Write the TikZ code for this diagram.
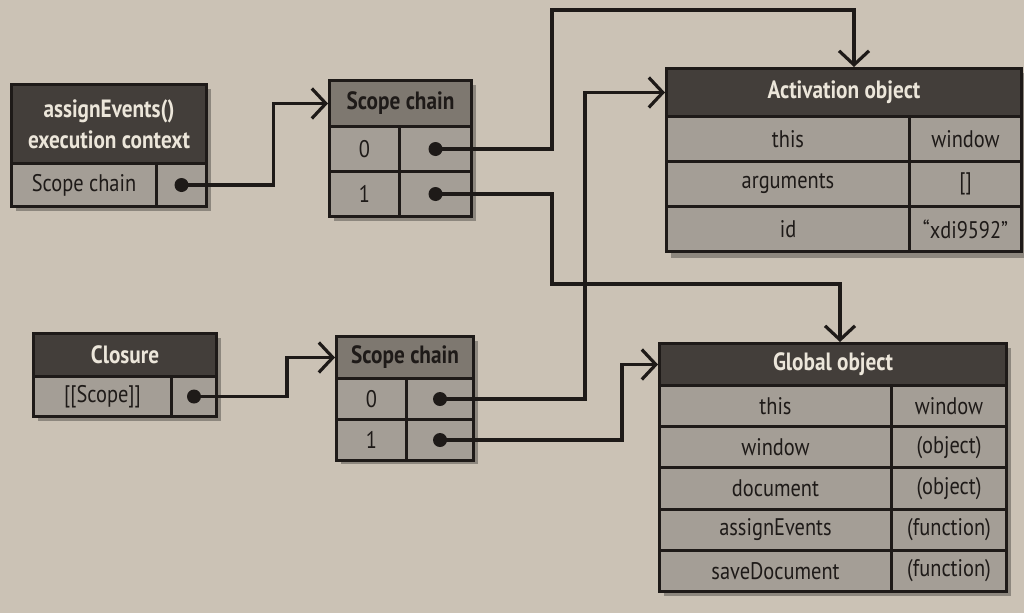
\documentclass[tikz,border=0pt]{standalone}
\usepackage{fontspec}
\setmainfont{PT Sans}[FakeStretch=0.85]
\usetikzlibrary{arrows.meta}

\definecolor{paper}{HTML}{CBC2B5}
\definecolor{ink}{HTML}{1E1A18}
\definecolor{hdrdark}{HTML}{433E3A}
\definecolor{hdrtext}{HTML}{ECE6DA}
\definecolor{scgray}{HTML}{7E7870}
\definecolor{rowgray}{HTML}{A49E96}

\tikzset{
  box/.style={draw=ink, line width=3pt, inner sep=0pt, anchor=north west},
  hdr/.style={box, fill=hdrdark, text=hdrtext, font=\fontsize{25}{31}\selectfont\bfseries},
  schdr/.style={box, fill=scgray, text=ink, font=\fontsize{25}{30}\selectfont\bfseries},
  cell/.style={box, fill=rowgray, text=ink, font=\fontsize{24}{28}\selectfont},
  ptr/.style={circle, fill=ink, inner sep=0pt, minimum size=14pt},
  conn/.style={line width=3.2pt, draw=ink, -{Straight Barb[length=14pt,width=30pt,line width=3.2pt]}},
  shade/.style={fill=black, opacity=0.3}
}

\begin{document}
\begin{tikzpicture}[x=1pt,y=-1pt]
  \useasboundingbox[fill=paper] (0,0) rectangle (1024,613);

  % shadows
  \foreach \xa/\ya/\xb/\yb in {10/83/205/205, 328/79/470/215, 665/67/1020/252,
                               32/332/215/415, 335/335/472/458, 658/342/1005/590}
  {
    \fill[shade] ({\xa+6},{\ya+6}) rectangle ({\xb+6},{\yb+6});
  }

  % execution context
  \node[hdr, minimum width=195pt, minimum height=79pt, align=center] (ech) at (10,83) {assignEvents()\\execution context};
  \node[cell, minimum width=145pt, minimum height=43pt] (ecrow) at (10,162) {Scope chain};
  \node[cell, minimum width=50pt, minimum height=43pt] (ecptr) at (155,162) {};
  \node[ptr] (ecdot) at (ecptr.center) {};

  % scope chain of the execution context
  \node[schdr, minimum width=142pt, minimum height=46pt] (sc1h) at (328,79) {Scope chain};
  \foreach \i in {0,1}
  {
    \node[cell, minimum width=70pt, minimum height=45pt] (sc1k\i) at (328,{125+45*\i}) {\i};
    \node[cell, minimum width=72pt, minimum height=45pt] (sc1v\i) at (398,{125+45*\i}) {};
    \node[ptr] (sc1d\i) at (sc1v\i.center) {};
  }

  % activation object
  \node[hdr, minimum width=355pt, minimum height=48pt] (acth) at (665,67) {Activation object};
  \foreach \k/\v [count=\i from 0] in {this/window, arguments/{[]}, id/“xdi9592”}
  {
    \node[cell, minimum width=243pt, minimum height=45pt] (actk\i) at (665,{115+45*\i}) {\k};
    \node[cell, minimum width=112pt, minimum height=45pt] (actv\i) at (908,{115+45*\i}) {\v};
  }

  % closure
  \node[hdr, minimum width=183pt, minimum height=43pt] (cloh) at (32,332) {Closure};
  \node[cell, minimum width=138pt, minimum height=40pt] (clorow) at (32,375) {[[Scope]]};
  \node[cell, minimum width=45pt, minimum height=40pt] (cloptr) at (170,375) {};
  \node[ptr] (clodot) at (cloptr.center) {};

  % scope chain of the closure
  \node[schdr, minimum width=137pt, minimum height=42pt] (sc2h) at (335,335) {Scope chain};
  \foreach \i in {0,1}
  {
    \node[cell, minimum width=70pt, minimum height=41pt] (sc2k\i) at (335,{377+41*\i}) {\i};
    \node[cell, minimum width=67pt, minimum height=41pt] (sc2v\i) at (405,{377+41*\i}) {};
    \node[ptr] (sc2d\i) at (sc2v\i.center) {};
  }

  % global object
  \node[hdr, minimum width=347pt, minimum height=42pt] (globh) at (658,342) {Global object};
  \foreach \k/\v [count=\i from 0] in {this/window, window/(object), document/(object),
                                      assignEvents/(function), saveDocument/(function)}
  {
    \node[cell, minimum width=232pt, minimum height=41.2pt] (globk\i) at (658,{384+41.2*\i}) {\k};
    \node[cell, minimum width=115pt, minimum height=41.2pt] (globv\i) at (890,{384+41.2*\i}) {\v};
  }

  % references
  \draw[conn] (ecdot.center) -- ++(92,0) |- (sc1h.west);
  \draw[conn] (sc1d0.center) -| (552,10) -| ([xshift=10pt]acth.north);
  \draw[conn] (sc1d1.center) -| (552,284) -| ([xshift=7pt]globh.north);
  \draw[conn] (clodot.center) -- ++(93,0) |- (sc2h.west);
  \draw[conn] (sc2d0.center) -- ++(145,0) |- (acth.west);
  \draw[conn] (sc2d1.center) -- ++(182,0) |- (globh.west);
\end{tikzpicture}
\end{document}
